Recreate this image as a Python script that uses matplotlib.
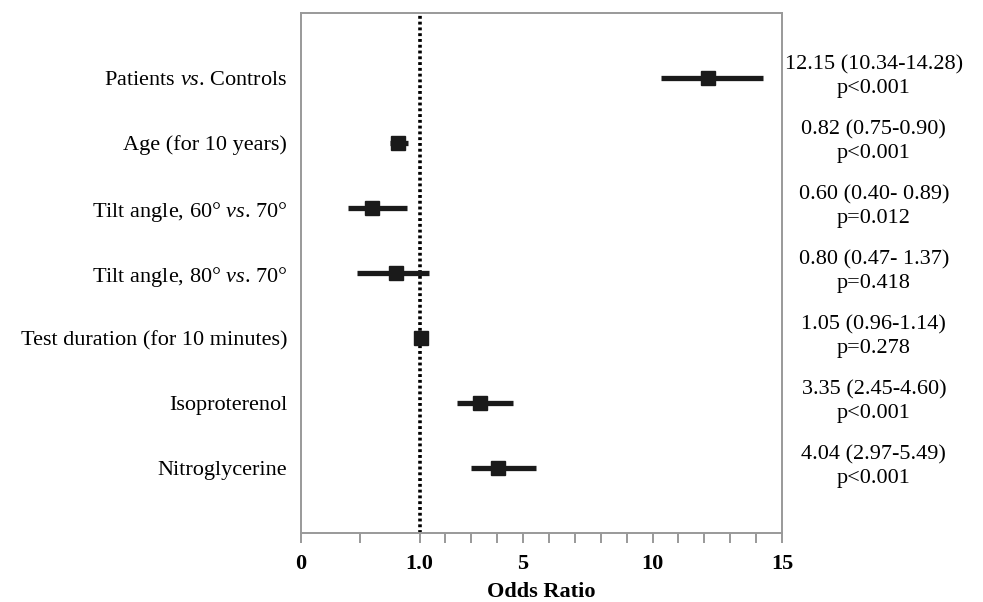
import numpy as np
import matplotlib
matplotlib.use('Agg')
import matplotlib.pyplot as plt
import matplotlib.transforms as mtransforms

plt.rcParams['font.family'] = 'Liberation Serif'
plt.rcParams['mathtext.fontset'] = 'custom'
plt.rcParams['mathtext.rm'] = 'Liberation Serif'
plt.rcParams['mathtext.it'] = 'Liberation Serif:italic'

# data
labels = ['Patients $\\mathit{vs}$. Controls', 'Age (for 10 years)',
          'Tilt angle, 60° $\\mathit{vs}$. 70°', 'Tilt angle, 80° $\\mathit{vs}$. 70°',
          'Test duration (for 10 minutes)', 'Isoproterenol', 'Nitroglycerine']
odds = [12.15, 0.82, 0.60, 0.80, 1.05, 3.35, 4.04]
ci_low = [10.34, 0.75, 0.40, 0.47, 0.96, 2.45, 2.97]
ci_high = [14.28, 0.90, 0.89, 1.37, 1.14, 4.60, 5.49]
ci_text = ['12.15 (10.34-14.28)', '0.82 (0.75-0.90)', '0.60 (0.40- 0.89)',
           '0.80 (0.47- 1.37)', '1.05 (0.96-1.14)', '3.35 (2.45-4.60)',
           '4.04 (2.97-5.49)']
p_text = ['p<0.001', 'p<0.001', 'p=0.012', 'p=0.418', 'p=0.278', 'p<0.001', 'p<0.001']
major_ticks = [0, 1, 5, 10, 15]
major_labels = ['0', '1.0', '5', '10', '15']
minor_ticks = [0.5, 2, 3, 4, 6, 7, 8, 9, 11, 12, 13, 14]

# stretched axis: 0-1 is wider than each unit above 1
K = 4.58
def fwd(x):
    x = np.asarray(x, dtype=float)
    return np.where(x < 1, x * K, K + (x - 1))

def inv(y):
    y = np.asarray(y, dtype=float)
    return np.where(y < K, y / K, y - K + 1)

fig = plt.figure(figsize=(9.83, 6.02), dpi=100)
ax = fig.add_axes([0.3062, 0.1146, 0.4893, 0.8638])
ax.set_xscale('function', functions=(fwd, inv))
ax.set_xlim(0, 15)
ax.set_ylim(8, 0)

rows = np.arange(1, len(labels) + 1)
ax.axvline(1, color='black', linestyle=(0, (0.8, 0.8)), linewidth=2.6, zorder=1)
ax.hlines(rows, ci_low, ci_high, color='#1a1a1a', linewidth=3.8, zorder=2)
ax.plot(odds, rows, 's', color='#1a1a1a', markersize=9.5, zorder=3)

ax.set_yticks(rows)
ax.set_yticklabels(labels, fontsize=16)
ax.tick_params(axis='y', length=0, pad=10)

ax.set_xticks(major_ticks)
ax.set_xticklabels(major_labels, fontsize=16, fontweight='bold')
ax.set_xticks(minor_ticks, minor=True)
ax.tick_params(axis='x', which='both', length=7, width=1.2, color='#888888', pad=8)
ax.set_xlabel('Odds Ratio', fontsize=16, fontweight='bold', labelpad=6)

for s in ax.spines.values():
    s.set_color('#999999')
    s.set_linewidth(1.4)

trans = mtransforms.blended_transform_factory(fig.transFigure, ax.transData)
for r, c, p in zip(rows, ci_text, p_text):
    ax.text(0.889, r - 0.02, c + '\n' + p, transform=trans, ha='center', va='center',
            fontsize=16, linespacing=1.35)

fig.savefig('out.png', dpi=100)
